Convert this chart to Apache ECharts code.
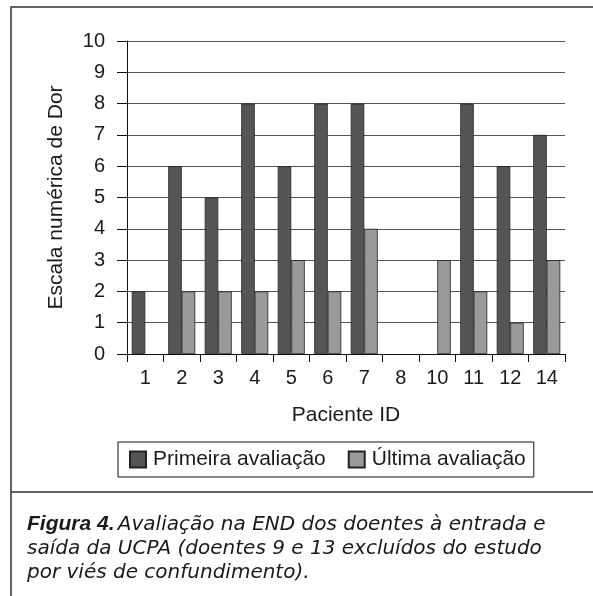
<!DOCTYPE html>
<html>
<head>
<meta charset="utf-8">
<script src="https://cdn.jsdelivr.net/npm/echarts@6/dist/echarts.min.js"></script>
<style>
  html, body { margin: 0; padding: 0; background: #fff; }
  #chart { width: 593px; height: 596px; }
</style>
</head>
<body>
<div id="chart"></div>
<script>
// Patient IDs (9 and 13 excluded)
const pacientes = ['1', '2', '3', '4', '5', '6', '7', '8', '10', '11', '12', '14'];
// Pain scale values; null = no bar
const primeiraAvaliacao = [2, 6, 5, 8, 6, 8, 8, null, null, 8, 6, 7];
const ultimaAvaliacao = [null, 2, 2, 2, 3, 2, 4, null, 3, 2, 1, 3];
const yTicks = [0, 10, 1]; // min, max, interval

const FONT = '"Liberation Sans", Arial, sans-serif';
const CAPTION_FONT = '"DejaVu Sans", sans-serif';
const chart = echarts.init(document.getElementById('chart'), null, { renderer: 'canvas' });

chart.setOption({
  backgroundColor: '#fff',
  animation: false,
  textStyle: { fontFamily: FONT, color: '#1a1a1a' },
  grid: { left: 127, right: 28, top: 41, bottom: 242, containLabel: false },
  legend: {
    left: 118, top: 442,
    padding: [7, 8, 7, 11],
    itemGap: 22,
    itemWidth: 16, itemHeight: 16,
    icon: 'rect',
    borderColor: '#111', borderWidth: 1,
    textStyle: { fontSize: 21, lineHeight: 18, color: '#1a1a1a', fontFamily: FONT, padding: [0, 0, 0, 2] },
    data: ['Primeira avaliação', 'Última avaliação']
  },
  xAxis: {
    type: 'category',
    data: pacientes,
    name: 'Paciente ID',
    nameLocation: 'middle',
    nameGap: 51,
    nameTextStyle: { fontSize: 21, color: '#1a1a1a', fontFamily: FONT },
    axisLine: { lineStyle: { color: '#111', width: 1 } },
    axisTick: { show: true, alignWithLabel: false, length: 8, lineStyle: { color: '#111' } },
    axisLabel: { fontSize: 20, color: '#1a1a1a', margin: 14, fontFamily: FONT },
    splitLine: { show: false }
  },
  yAxis: {
    type: 'value',
    min: yTicks[0], max: yTicks[1], interval: yTicks[2],
    name: 'Escala numérica de Dor',
    nameLocation: 'middle',
    nameGap: 60,
    nameTextStyle: { fontSize: 21, color: '#1a1a1a', fontFamily: FONT },
    axisLine: { show: true, lineStyle: { color: '#111', width: 1 } },
    axisTick: { show: true, length: 10, lineStyle: { color: '#111' } },
    axisLabel: { fontSize: 20, color: '#1a1a1a', margin: 22, fontFamily: FONT },
    splitLine: { show: true, lineStyle: { color: '#555', width: 1.2 } }
  },
  series: [
    {
      name: 'Primeira avaliação',
      type: 'bar',
      data: primeiraAvaliacao,
      barWidth: 13.5,
      barGap: '0%',
      itemStyle: { color: '#555555', borderColor: '#222', borderWidth: 0.8 }
    },
    {
      name: 'Última avaliação',
      type: 'bar',
      data: ultimaAvaliacao,
      barWidth: 13.5,
      barGap: '0%',
      itemStyle: { color: '#9a9a9a', borderColor: '#222', borderWidth: 0.8 }
    }
  ],
  graphic: [
    {
      type: 'rect', silent: true, z: -1,
      shape: { x: 11, y: 7, width: 620, height: 620 },
      style: { fill: 'none', stroke: '#333', lineWidth: 1.5 }
    },
    {
      type: 'line', silent: true,
      shape: { x1: 11, y1: 492, x2: 600, y2: 492 },
      style: { stroke: '#333', lineWidth: 1.5 }
    },
    {
      type: 'text', left: 27, top: 514,
      style: {
        text: '{b|Figura 4.} {i|Avaliação na END dos doentes à entrada e}\n{i|saída da UCPA (doentes 9 e 13 excluídos do estudo}\n{i|por viés de confundimento).}',
        rich: {
          b: { fontFamily: FONT, fontSize: 21, fontStyle: 'italic', fontWeight: 'bold', fill: '#1a1a1a', lineHeight: 24 },
          i: { fontFamily: CAPTION_FONT, fontSize: 20, fontStyle: 'italic', fill: '#1a1a1a', lineHeight: 24 }
        }
      }
    }
  ]
});
</script>
</body>
</html>
